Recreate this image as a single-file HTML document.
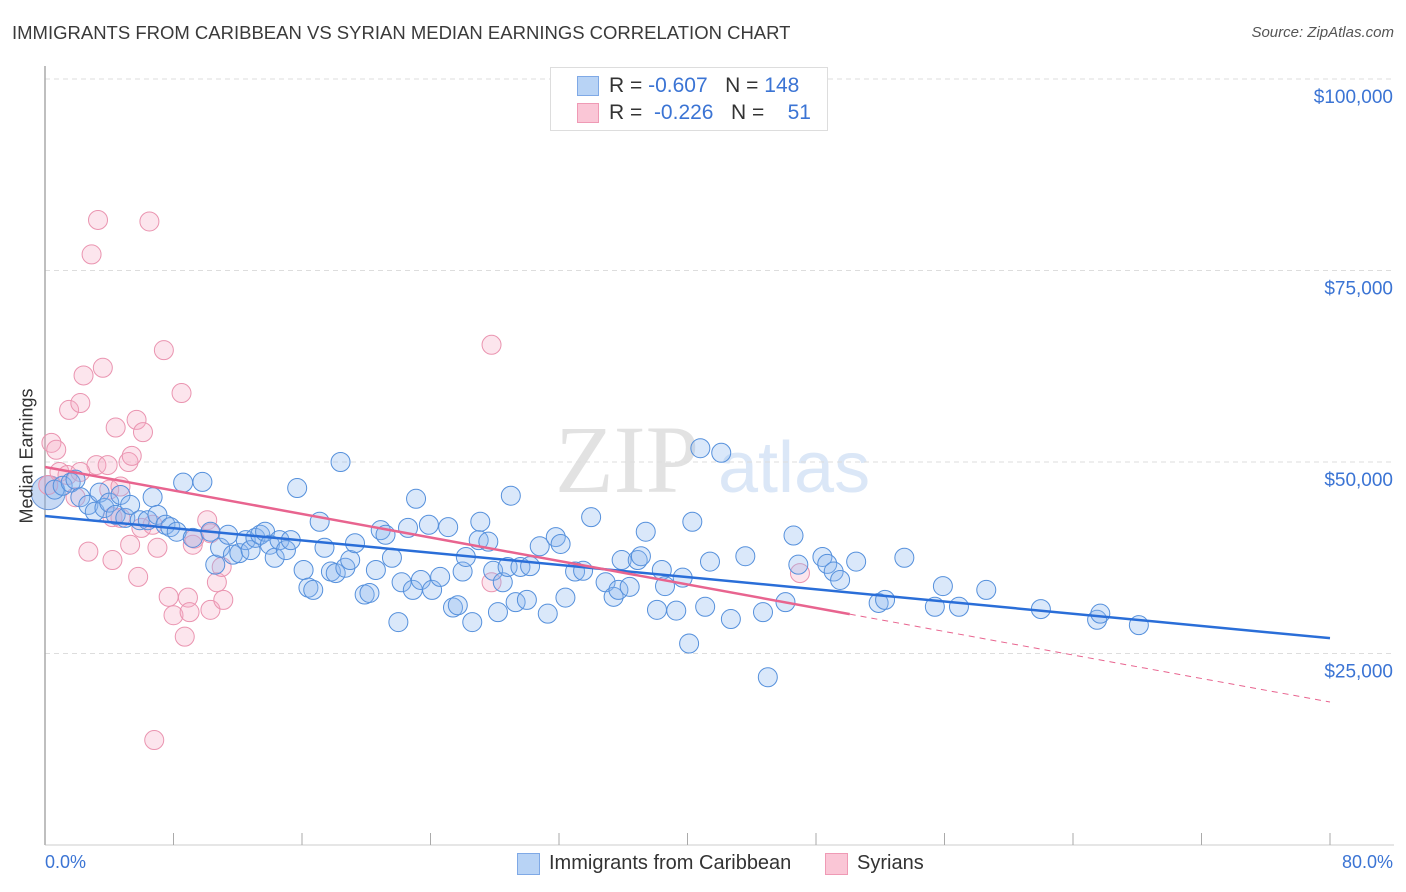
<!DOCTYPE html>
<html><head><meta charset="utf-8"><style>
body{margin:0;background:#fff;font-family:"Liberation Sans",sans-serif;}
#wrap{position:relative;width:1406px;height:892px;overflow:hidden;}
.t{position:absolute;white-space:nowrap;}
</style></head><body>
<div id="wrap">
<div class="t" style="left:12px;top:22px;font-size:18.5px;color:#3a3a3a;">IMMIGRANTS FROM CARIBBEAN VS SYRIAN MEDIAN EARNINGS CORRELATION CHART</div>
<div class="t" style="right:12px;top:24px;font-size:15px;color:#555;font-style:italic;">Source: ZipAtlas.com</div>
<svg id="svg" width="1406" height="892" style="position:absolute;left:0;top:0">
<text x="555" y="492" font-family="Liberation Serif" font-size="96" fill="#e2e2e2">ZIP</text>
<text x="718" y="492" font-family="Liberation Sans" font-size="72" fill="#dbe7f7">atlas</text>
</svg>
<div style="position:absolute;left:550px;top:67px;width:276px;height:62px;border:1px solid #ddd;background:#fff;">
<div style="position:absolute;left:26px;top:8px;width:20px;height:18px;background:#b8d3f5;border:1px solid #7fa9e6;"></div>
<div style="position:absolute;left:26px;top:35px;width:20px;height:18px;background:#fac6d6;border:1px solid #ef9ab5;"></div>
<div class="t" style="left:58px;top:6px;font-size:21px;color:#333;">R = <span style="color:#3b74d4">-0.607</span>&nbsp;&nbsp;&nbsp;N = <span style="color:#3b74d4">148</span></div>
<div class="t" style="left:58px;top:33px;font-size:21px;color:#333;">R = &nbsp;<span style="color:#3b74d4">-0.226</span>&nbsp;&nbsp;&nbsp;N = &nbsp;&nbsp;&nbsp;<span style="color:#3b74d4">51</span></div>
</div>
<div class="t" style="left:27px;top:456px;font-size:18px;color:#333;transform:translate(-50%,-50%) rotate(-90deg);">Median Earnings</div>
<div class="t" style="left:45px;top:852px;font-size:18px;color:#3b74d4;">0.0%</div>
<div class="t" style="right:13px;top:852px;font-size:18px;color:#3b74d4;">80.0%</div>
<div style="position:absolute;left:517px;top:853px;">
<div style="position:absolute;left:0;top:0;width:21px;height:20px;background:#b8d3f5;border:1px solid #7fa9e6;"></div>
<div class="t" style="left:32px;top:-1px;font-size:20px;color:#333;">Immigrants from Caribbean</div></div>
<div style="position:absolute;left:825px;top:853px;">
<div style="position:absolute;left:0;top:0;width:21px;height:20px;background:#fac6d6;border:1px solid #ef9ab5;"></div>
<div class="t" style="left:32px;top:-1px;font-size:20px;color:#333;">Syrians</div></div>
</div>
<script>
const yTicks=[25000,50000,75000,100000];
const yTickLabels=["$25,000","$50,000","$75,000","$100,000"];
const xTicks=[0,8,16,24,32,40,48,56,64,72,80];
const caribX=[0.6,1.1,1.6,1.9,2.2,2.7,3.1,3.4,3.7,4.0,4.4,4.7,5.0,5.3,5.9,6.4,6.7,7.0,7.5,7.8,8.2,8.6,9.2,9.8,10.3,10.6,10.9,11.4,11.7,12.1,12.5,12.8,13.1,13.4,13.7,14.0,14.3,14.6,15.0,15.3,15.7,16.1,16.4,16.7,17.1,17.4,17.8,18.1,18.4,18.7,19.0,19.3,19.9,20.2,20.6,20.9,21.2,21.6,22.0,22.2,22.6,22.9,23.1,23.4,23.9,24.1,24.6,25.1,25.4,25.7,26.0,26.2,26.6,27.0,27.1,27.6,27.9,28.2,28.5,28.8,29.0,29.3,29.6,30.0,30.2,30.8,31.3,31.8,32.1,32.4,33.0,33.5,34.0,34.9,35.4,35.7,35.9,36.4,36.9,37.1,37.4,38.1,38.4,38.6,39.3,39.7,40.1,40.3,40.8,41.1,41.4,42.1,42.7,43.6,44.7,45.0,46.1,46.6,46.9,48.4,48.7,49.1,49.5,50.5,51.9,52.3,53.5,55.4,55.9,56.9,58.6,62.0,65.5,65.7,68.1];
const caribY=[46.4,46.9,47.3,47.7,45.4,44.4,43.5,46.0,44.0,44.7,43.1,45.7,42.7,44.4,42.4,42.4,45.4,43.1,41.8,41.5,40.9,47.3,40.1,47.4,40.9,36.6,38.8,40.5,37.9,38.1,39.8,38.5,40.1,40.5,40.9,39.2,37.5,39.8,38.5,39.8,46.6,35.9,33.6,33.3,42.2,38.8,35.7,35.5,50.0,36.2,37.2,39.4,32.7,32.9,35.9,41.1,40.5,37.5,29.1,34.3,41.4,33.3,45.2,34.6,41.8,33.3,35.0,41.5,31.0,31.3,35.7,37.6,29.1,39.8,42.2,39.6,35.8,30.4,34.3,36.3,45.6,31.7,36.3,32.0,36.4,39.0,30.2,40.2,39.3,32.3,35.7,35.8,42.8,34.3,32.4,33.3,37.2,33.7,37.2,37.7,40.9,30.7,35.9,33.8,30.6,34.9,26.3,42.2,51.8,31.1,37.0,51.2,29.5,37.7,30.4,21.9,31.7,40.4,36.6,37.6,36.7,35.7,34.6,37.0,31.6,32.0,37.5,31.1,33.8,31.1,33.3,30.8,29.4,30.2,28.7];
const syrX=[3.3,6.5,2.9,7.4,27.8,2.4,3.6,8.5,1.5,2.2,5.7,4.4,6.1,0.4,0.7,3.2,3.9,5.2,5.4,0.9,1.4,2.2,4.0,4.7,1.9,0.2,4.2,4.7,6.0,5.3,6.7,7.0,9.2,9.3,10.1,10.3,10.7,11.0,2.7,4.2,5.8,7.7,8.0,8.9,9.0,10.3,11.1,8.7,6.8,27.8,47.0];
const syrY=[81.6,81.4,77.1,64.6,65.3,61.3,62.3,59.0,56.8,57.7,55.5,54.5,53.9,52.5,51.6,49.6,49.6,50.0,50.8,48.7,48.3,48.7,46.4,46.8,45.4,47.0,42.8,42.7,41.4,39.2,41.8,38.8,39.2,40.0,42.4,40.7,34.3,36.3,38.3,37.2,35.0,32.4,30.0,32.3,30.4,30.7,32.0,27.2,13.7,34.3,35.5];
const caribTrend=[42.95,27.0];
const syrTrend=[49.35,18.67];
const syrSolidEnd=50.1;

const NS="http://www.w3.org/2000/svg";
const svg=document.getElementById('svg');
const X0=45,X1=1330,Y0=845,PXK=191.5/25;
const sx=v=>X0+(v/80)*(X1-X0);
const sy=v=>Y0-v*PXK;
function mk(tag,attrs){const e=document.createElementNS(NS,tag);for(const k in attrs)e.setAttribute(k,attrs[k]);return e;}
yTicks.forEach((t,i)=>{
 const g=mk('line',{x1:X0,x2:1394,y1:sy(t/1000),y2:sy(t/1000),stroke:'#ddd','stroke-dasharray':'5,4'});
 
 
 svg.appendChild(g);
 const l=mk('text',{x:1393,y:sy(t/1000)+24,'text-anchor':'end','font-size':19,fill:'#3b74d4','font-family':'Liberation Sans'});
 l.textContent=yTickLabels[i];
 
 
 svg.appendChild(l);
});
const ax=mk('line',{x1:X0,x2:X0,y1:66,y2:Y0,stroke:'#aaa','stroke-width':1.5});


svg.appendChild(ax);
const bx=mk('line',{x1:X0,x2:1394,y1:Y0,y2:Y0,stroke:'#ccc','stroke-width':1});


svg.appendChild(bx);
xTicks.forEach(t=>{
 const k=mk('line',{x1:sx(t),x2:sx(t),y1:833,y2:Y0,stroke:'#aaa','stroke-width':1});
 
 
 svg.appendChild(k);
});
function dots(xs,ys,fill,stroke,name){
 xs.forEach((x,i)=>{
  const c=mk('circle',{cx:sx(x),cy:sy(ys[i]),r:9.5,fill:fill,stroke:stroke,'stroke-width':1});
  
  
  svg.appendChild(c);
 });
}
const big=mk('circle',{cx:sx(0.2),cy:sy(46),r:17,fill:'rgba(130,170,230,0.45)',stroke:'#6d98d8'});


svg.appendChild(big);
dots(syrX,syrY,'rgba(246,170,195,0.3)','#ea94b0','syrians-point');
dots(caribX,caribY,'rgba(140,185,240,0.32)','#5590dc','caribbean-point');
const tl=(x,y)=>[sx(x),sy(y)];
const lerp=(tr,x)=>tr[0]+(tr[1]-tr[0])*x/80;
let a=tl(0,lerp(caribTrend,0)),b=tl(80,lerp(caribTrend,80));
const cl=mk('line',{x1:a[0],y1:a[1],x2:b[0],y2:b[1],stroke:'#2a6ed8','stroke-width':2.5});


svg.appendChild(cl);
a=tl(0,lerp(syrTrend,0));b=tl(syrSolidEnd,lerp(syrTrend,syrSolidEnd));
const sl=mk('line',{x1:a[0],y1:a[1],x2:b[0],y2:b[1],stroke:'#e8648f','stroke-width':2.5});


svg.appendChild(sl);
let c2=tl(80,lerp(syrTrend,80));
const sd=mk('line',{x1:b[0],y1:b[1],x2:c2[0],y2:c2[1],stroke:'#e8648f','stroke-width':1,'stroke-dasharray':'6,5'});


svg.appendChild(sd);
</script>
</body></html>
